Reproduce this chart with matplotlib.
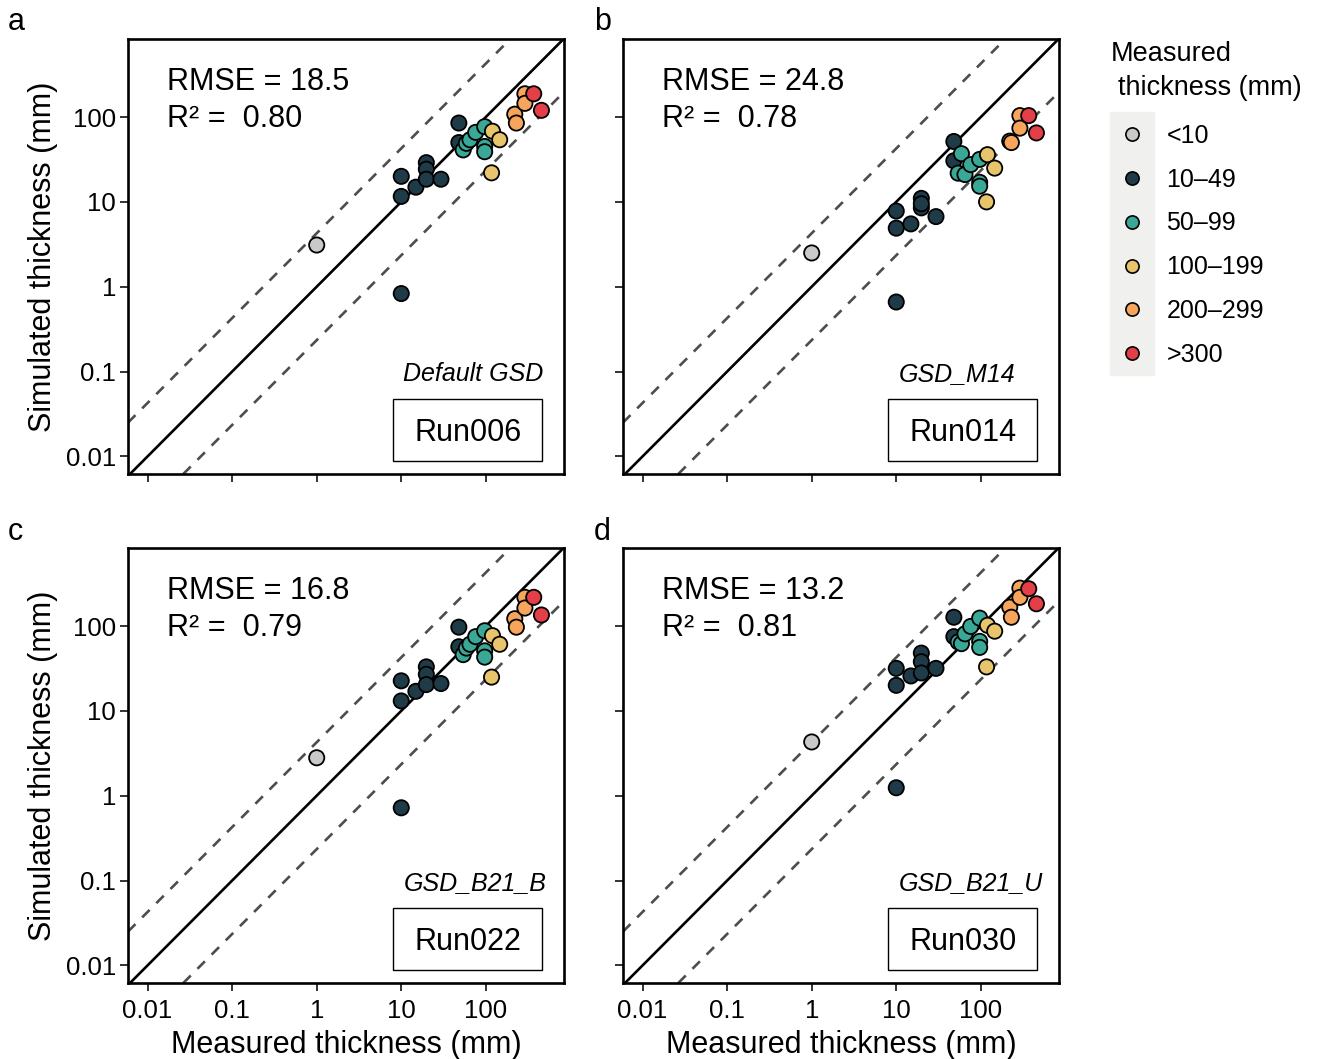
import numpy as np
import matplotlib.pyplot as plt
from matplotlib.lines import Line2D
from matplotlib.patches import Rectangle

plt.rcParams['font.family'] = ['Liberation Sans', 'DejaVu Sans']

# measured thickness (mm), same sites in every run
measured = [1, 10, 10, 10, 14.9, 19.8, 19.8, 19.8, 29.5, 48, 48, 54, 59, 65, 76,
            97, 97, 97, 117, 120, 146, 220, 230, 290, 290, 369, 455]

# simulated thickness (mm) for each run
sim_a = [3.1, 0.83, 20, 11.6, 14.9, 29, 24.3, 18.5, 18.5, 85, 50, 41, 49, 54, 66,
         77, 45, 39, 22, 68, 54, 108, 85, 188, 145, 188, 120]
sim_b = [2.5, 0.66, 7.8, 4.9, 5.5, 11, 8.5, 9.5, 6.7, 51.5, 30.5, 21.8, 37, 21, 27.5,
         31.7, 17, 15.3, 10, 36, 25, 52, 50, 104, 74, 104, 65]
sim_c = [2.8, 0.72, 22.6, 13.1, 17, 33, 27, 20.4, 21, 97, 57, 46, 55, 61, 75,
         88, 51, 43, 25, 77, 61, 122, 97, 218, 163, 218, 135]
sim_d = [4.3, 1.24, 31.7, 20, 25.8, 48, 38, 28, 31.7, 127, 75, 65, 62, 81, 99,
         124, 66, 56, 33, 102, 87, 167, 127, 280, 218, 275, 183]

rmse = ['18.5', '24.8', '16.8', '13.2']
r2 = ['0.80', '0.78', '0.79', '0.81']
runs = ['Run006', 'Run014', 'Run022', 'Run030']
gsd = ['Default GSD', 'GSD_M14', 'GSD_B21_B', 'GSD_B21_U']
letters = ['a', 'b', 'c', 'd']

classes = ['<10', '10\u201349', '50\u201399', '100\u2013199', '200\u2013299', '>300']
class_edges = [10, 50, 100, 200, 300]
cores = ['#c9c9c9', '#1f3b48', '#3aa896', '#e8c56c', '#f7a55c', '#e43f49']

W, H = 1322, 1059
fig = plt.figure(figsize=(W / 100, H / 100), dpi=100)

# axes boxes in pixels: left, top, right, bottom
caixas = [(128, 39, 564, 474), (623, 39, 1059, 474),
          (128, 548, 564, 983), (623, 548, 1059, 983)]
letra_pos = [(8, 22), (594, 22), (8, 532), (594, 532)]
gsd_right = [0.952, 0.899, 0.961, 0.963]
sims = [sim_a, sim_b, sim_c, sim_d]

grupo = np.digitize(measured, class_edges)
fator = 10 ** 0.63

for i in range(4):
    l, t, r, b = caixas[i]
    ax = fig.add_axes([l / W, 1 - b / H, (r - l) / W, (b - t) / H])
    ax.set_xscale('log')
    ax.set_yscale('log')
    ax.set_xlim(10 ** -2.232, 10 ** 2.925)
    ax.set_ylim(10 ** -2.208, 10 ** 2.92)

    ax.axline((1, 1), (10, 10), color='black', lw=1.9, zorder=2)
    ax.axline((1, fator), (10, 10 * fator), color='#4d4d4d', lw=1.9,
              dashes=(4, 3.6), zorder=2)
    ax.axline((1, 1 / fator), (10, 10 / fator), color='#4d4d4d', lw=1.9,
              dashes=(4, 3.6), zorder=2)

    ax.scatter(measured, sims[i], s=120, c=[cores[g] for g in grupo],
               edgecolors='black', linewidths=1.3, zorder=3)

    ticks = [0.01, 0.1, 1, 10, 100]
    nomes = ['0.01', '0.1', '1', '10', '100']
    ax.set_xticks(ticks)
    ax.set_yticks(ticks)
    ax.minorticks_off()
    if i in (2, 3):
        ax.set_xticklabels(nomes)
        ax.set_xlabel('Measured thickness (mm)', fontsize=22, labelpad=5)
    else:
        ax.set_xticklabels([])
    if i in (0, 2):
        ax.set_yticklabels(nomes)
        ax.set_ylabel('Simulated thickness (mm)', fontsize=22, labelpad=6)
    else:
        ax.set_yticklabels([])
    ax.tick_params(length=5.5, width=1.4, labelsize=18.5, color='#333333')
    ax.tick_params(axis='x', pad=6)
    ax.tick_params(axis='y', pad=3)
    for lado in ax.spines.values():
        lado.set_linewidth(1.9)

    ax.text(0.089, 0.883, 'RMSE = ' + rmse[i], transform=ax.transAxes,
            fontsize=22, va='baseline')
    ax.text(0.089, 0.798, 'R\u00b2 =  ' + r2[i], transform=ax.transAxes,
            fontsize=22, va='baseline')
    ax.text(gsd_right[i], 0.214, gsd[i], transform=ax.transAxes, fontsize=18,
            style='italic', ha='right', va='baseline')
    ax.add_patch(Rectangle((0.608, 0.030), 0.342, 0.142, transform=ax.transAxes,
                           fill=False, edgecolor='black', lw=1.0, zorder=4))
    ax.text(0.779, 0.094, runs[i], transform=ax.transAxes, fontsize=22,
            ha='center', va='center')

    lx, ly = letra_pos[i]
    fig.text(lx / W, 1 - ly / H, letters[i], fontsize=22, ha='left', va='center')

# legend
fig.patches.append(Rectangle((1110 / W, 1 - 375 / H), 44 / W, 263 / H,
                             transform=fig.transFigure, color='#f0f0ee', zorder=0))
fig.text(1111 / W, 1 - 54 / H, 'Measured', fontsize=19.5, va='center')
fig.text(1118 / W, 1 - 88 / H, 'thickness (mm)', fontsize=19.5, va='center')
alcas = [Line2D([], [], ls='', marker='o', markersize=9.5, markerfacecolor=c,
                markeredgecolor='black', markeredgewidth=1.2) for c in cores]
fig.legend(alcas, classes, loc='upper left', bbox_to_anchor=(1119 / W, 1 - 124 / H),
           frameon=False, fontsize=18, labelspacing=0.79, handletextpad=0.9,
           handlelength=1.0, borderaxespad=0, borderpad=0)

plt.savefig('out.png', dpi=100)
